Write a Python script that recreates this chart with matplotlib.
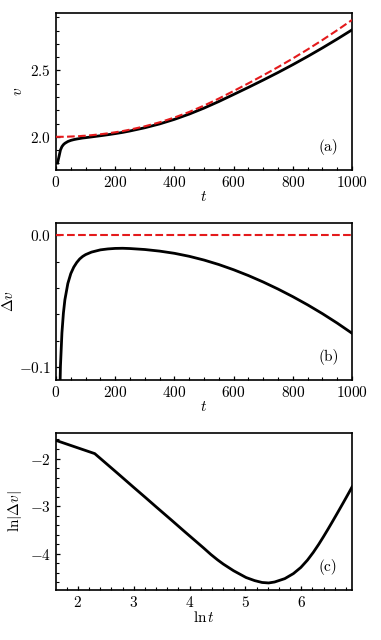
import numpy as np
import matplotlib
matplotlib.use("Agg")
import matplotlib.pyplot as plt
from matplotlib.ticker import MultipleLocator

plt.rcParams['font.family'] = ['cmr10', 'DejaVu Serif']
plt.rcParams['mathtext.fontset'] = 'cm'
plt.rcParams['axes.formatter.use_mathtext'] = True
plt.rcParams['axes.unicode_minus'] = True

# Data
t = [5, 10, 15, 20, 25, 30, 40, 50, 60, 70, 80, 90, 100, 120, 150, 175, 200, 225,
     250, 300, 350, 400, 450, 500, 550, 600, 650, 700, 750, 800, 850, 900, 950, 1000]
# reference velocity (red dashed), sampled at t=0 and at the t values above
t_ref = [0] + t
v_ref = [2.000,
         2.000, 2.000, 2.000, 2.000, 2.000, 2.000, 2.001, 2.002, 2.003, 2.004, 2.005,
         2.007, 2.008, 2.012, 2.019, 2.026, 2.034, 2.043, 2.054, 2.079, 2.109,
         2.145, 2.187, 2.235, 2.288, 2.345, 2.403, 2.463, 2.525, 2.590, 2.658,
         2.729, 2.803, 2.880]
# deviation of numerical velocity from the reference
dv = [-0.198, -0.150, -0.0995, -0.0741, -0.0591, -0.0490, -0.0366, -0.0291,
      -0.0242, -0.0207, -0.0180, -0.0161, -0.0147, -0.0128, -0.0111, -0.0104,
      -0.0100, -0.0099, -0.0101, -0.01084, -0.01205, -0.01372, -0.01599, -0.01884,
      -0.02224, -0.02620, -0.03062, -0.03551, -0.04085, -0.04663, -0.05284,
      -0.05953, -0.06671, -0.07442]

t_arr = np.array(t, dtype=float)
dv_arr = np.array(dv)
v_black = np.array(v_ref[1:]) + dv_arr

fig = plt.figure(figsize=(3.81, 6.40), dpi=100)
L, W = 0.147, 0.777
ax_a = fig.add_axes([L, 0.734, W, 0.246])
ax_b = fig.add_axes([L, 0.406, W, 0.246])
ax_c = fig.add_axes([L, 0.078, W, 0.245])

fs = 11
lw_black = 2.0
red = '#e41a1c'

def style(ax):
    ax.tick_params(which='both', direction='in', top=False, right=False, labelsize=fs)
    ax.tick_params(which='major', length=3.2, width=0.9)
    ax.tick_params(which='minor', length=1.9, width=0.8)
    for s in ax.spines.values():
        s.set_linewidth(1.2)

# (a)
ax_a.plot(t_arr, v_black, color='black', lw=lw_black, zorder=2)
ax_a.plot(t_ref, v_ref, color=red, lw=1.5, ls='--', zorder=3)
ax_a.set_xlim(0, 1000)
ax_a.xaxis.set_major_locator(MultipleLocator(200))
ax_a.xaxis.set_minor_locator(MultipleLocator(50))
ax_a.yaxis.set_major_locator(MultipleLocator(0.5))
ax_a.yaxis.set_minor_locator(MultipleLocator(0.1))
ax_a.set_xlabel(r'$t$', fontsize=fs, labelpad=0)
ax_a.set_ylabel(r'$v$', fontsize=fs, labelpad=4)
ax_a.text(0.92, 0.15, '(a)', transform=ax_a.transAxes, fontsize=fs, ha='center', va='center')
style(ax_a)

# (b)
ax_b.plot(t_arr, dv_arr, color='black', lw=lw_black, zorder=2)
ax_b.axhline(0.0, color=red, lw=1.5, ls='--', zorder=3)
ax_b.set_xlim(0, 1000)
ax_b.set_ylim(-0.110, 0.0095)
ax_b.xaxis.set_major_locator(MultipleLocator(200))
ax_b.xaxis.set_minor_locator(MultipleLocator(50))
ax_b.yaxis.set_major_locator(MultipleLocator(0.1))
ax_b.yaxis.set_minor_locator(MultipleLocator(0.02))
ax_b.set_xlabel(r'$t$', fontsize=fs, labelpad=0)
ax_b.set_ylabel(r'$\Delta v$', fontsize=fs, labelpad=2)
ax_b.text(0.92, 0.15, '(b)', transform=ax_b.transAxes, fontsize=fs, ha='center', va='center')
style(ax_b)

# (c)
ax_c.plot(np.log(t_arr), np.log(np.abs(dv_arr)), color='black', lw=lw_black)
ax_c.set_xlim(np.log(t_arr[0]), np.log(t_arr[-1]))
ax_c.xaxis.set_major_locator(MultipleLocator(1))
ax_c.xaxis.set_minor_locator(MultipleLocator(0.2))
ax_c.yaxis.set_major_locator(MultipleLocator(1))
ax_c.yaxis.set_minor_locator(MultipleLocator(0.2))
ax_c.set_xlabel(r'$\ln t$', fontsize=fs, labelpad=0)
ax_c.set_ylabel(r'$\ln|\Delta v|$', fontsize=fs, labelpad=4)
ax_c.text(0.92, 0.15, '(c)', transform=ax_c.transAxes, fontsize=fs, ha='center', va='center')
style(ax_c)

fig.savefig('out.png', dpi=100)
